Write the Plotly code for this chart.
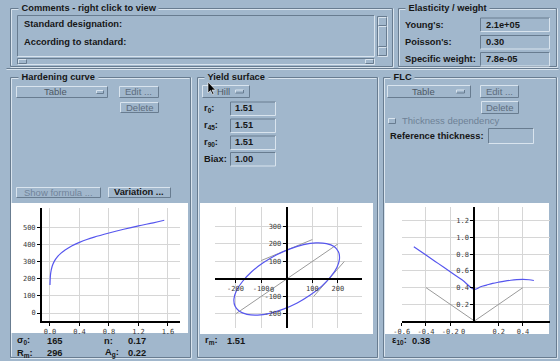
import plotly.graph_objects as go

W, H = 560, 361
BG = "#a1b7cc"
LIGHT = "#d9e4ee"
DARK = "#687c90"
BLUE = "#5656ee"
GREY = "#9a9a9a"
GRID = "#d6d6d6"
FS_B = 9.3   # bold label size
FS_R = 9.5   # regular label size

# ---------------- data ----------------
# Hardening curve (strain, stress)
hard_eps = [0.0, 0.01, 0.03, 0.06, 0.10, 0.15, 0.20, 0.30, 0.40, 0.50, 0.60, 0.80, 1.00, 1.20, 1.40, 1.55]
hard_sig = [165, 235, 275, 305, 330, 352, 368, 395, 415, 432, 446, 470, 492, 512, 530, 545]
hard_xticks = [0.0, 0.4, 0.8, 1.2, 1.6]
hard_xticktext = ["0.0", "0.4", "0.8", "1.2", "1.6"]
hard_yticks = [0, 100, 200, 300, 400, 500]

# Yield surface (sigma1, sigma2)
ys_s1 = [185, 202, 206, 196, 172, 137, 92, 41, -13, -66, -114, -155,
         -185, -202, -206, -196, -172, -137, -92, -41, 13, 66, 114, 155, 185]
ys_s2 = [185, 155, 114, 66, 13, -41, -92, -137, -172, -196, -206, -202,
         -185, -155, -114, -66, -13, 41, 92, 137, 172, 196, 206, 202, 185]
ys_diag_x = [-200, 200]
ys_diag_y = [-200, 200]
ys_tan1_x = [-100, 100]
ys_tan1_y = [105, 225]
ys_tan2_x = [105, 225]
ys_tan2_y = [-100, 100]
ys_xticks = [-200, -100, 100, 200]
ys_xticktext = ["-200", "-100", "100", "200"]
ys_yticks = [-200, -100, 100, 200, 300]
ys_yticktext = ["-200", "-100", "100", "200", "300"]

# FLC (minor strain, major strain)
flc_e2 = [-0.50, -0.40, -0.30, -0.20, -0.10, 0.00, 0.05, 0.10, 0.15, 0.20, 0.25, 0.30, 0.35, 0.40, 0.45, 0.49]
flc_e1 = [0.89, 0.79, 0.69, 0.59, 0.49, 0.38, 0.41, 0.43, 0.45, 0.465, 0.478, 0.488, 0.495, 0.498, 0.494, 0.485]
flc_ref_x = [-0.4, 0.0, 0.4]
flc_ref_y = [0.4, 0.0, 0.4]
flc_xticks = [-0.6, -0.4, -0.2, 0.2, 0.4]
flc_xticktext = ["-0.6", "-0.4", "-0.2", "0.2", "0.4"]
flc_yticks = [0.2, 0.4, 0.6, 0.8, 1.0, 1.2]
flc_yticktext = ["0.2", "0.4", "0.6", "0.8", "1.0", "1.2"]

# axis ranges
hard_xr = [-0.108, 1.763]
hard_yr = [-47, 617]
ys_xr = [-280, 294]
ys_yr = [-280, 411]
flc_xr = [-0.6, 0.623]
flc_yr = [0, 1.365]


def X(px):
    return px / W


def Y(py):
    return 1 - py / H


shapes = []
annotations = []


def rect(x0, y0, x1, y1, fill=None, line=None, lw=1):
    shapes.append(dict(type="rect", xref="paper", yref="paper",
                       x0=X(x0), x1=X(x1), y0=Y(y1), y1=Y(y0),
                       fillcolor=fill if fill else "rgba(0,0,0,0)",
                       line=dict(color=line if line else "rgba(0,0,0,0)", width=lw if line else 0),
                       layer="below"))


def seg(x0, y0, x1, y1, color, w=1):
    shapes.append(dict(type="line", xref="paper", yref="paper",
                       x0=X(x0 + 0.5), y0=Y(y0 + 0.5), x1=X(x1 + 0.5), y1=Y(y1 + 0.5),
                       line=dict(color=color, width=w), layer="below"))


def bevel(x0, y0, x1, y1, raised=True):
    tl = LIGHT if raised else DARK
    br = DARK if raised else LIGHT
    seg(x0, y0, x1, y0, tl)
    seg(x0, y0, x0, y1, tl)
    seg(x0, y1, x1, y1, br)
    seg(x1, y0, x1, y1, br)


def etched(x0, y0, x1, y1):
    seg(x0, y0, x1, y0, DARK)
    seg(x0, y0, x0, y1, DARK)
    seg(x0, y1, x1, y1, DARK)
    seg(x1, y0, x1, y1, DARK)
    seg(x0 + 1, y0 + 1, x1 - 1, y0 + 1, LIGHT)
    seg(x0 + 1, y0 + 1, x0 + 1, y1 - 1, LIGHT)
    seg(x0, y1 + 1, x1 + 1, y1 + 1, LIGHT)
    seg(x1 + 1, y0, x1 + 1, y1 + 1, LIGHT)


def txt(x, y, s, size=None, color="#161616", bold=True, anchor="left", bg=None):
    if size is None:
        size = FS_B if bold else FS_R
    annotations.append(dict(xref="paper", yref="paper", x=X(x), y=Y(y),
                            text=f"<b>{s}</b>" if bold else s, showarrow=False,
                            xanchor=anchor, yanchor="middle",
                            font=dict(family="Liberation Sans, Arial, sans-serif", size=size, color=color),
                            bgcolor=bg, borderpad=0))


# ---------------- top area ----------------
etched(10, 8, 392, 66)
txt(18, 8, " Comments - right click to view ", bg=BG)
bevel(17, 15, 374, 56, raised=False)
txt(23, 24, "Standard designation:")
txt(23, 41.5, "According to standard:")
# horizontal scrollbar
bevel(17, 58, 374, 64, raised=False)
bevel(18, 59, 26, 63)
bevel(365, 59, 373, 63)
# vertical scrollbar
bevel(377, 16, 387, 56, raised=False)
bevel(378, 17, 386, 25)
bevel(378, 47, 386, 55)
bevel(378, 26, 386, 46)

etched(398, 8, 556, 66)
txt(405, 8, " Elasticity / weight ", bg=BG)
for yy, lab, val in [(24.5, "Young's:", "2.1e+05"), (42, "Poisson's:", "0.30"), (59, "Specific weight:", "7.8e-05")]:
    txt(404, yy, lab)
    bevel(480, yy - 7, 549, yy + 6.5, raised=False)
    txt(485, yy, val)

seg(6, 68, 558, 68, DARK)
seg(6, 69, 558, 69, LIGHT)

# ---------------- lower panels ----------------
etched(10, 77, 190, 357)
txt(18, 77, " Hardening curve ", bg=BG)
etched(197, 77, 377, 357)
txt(204, 77, " Yield surface ", bg=BG)
etched(383, 77, 556, 357)
txt(390, 77, " FLC ", bg=BG)

# Hardening controls
bevel(16, 86, 107, 97)
txt(55, 91.5, "Table", color="#4e5965", bold=False, anchor="center")
bevel(96, 90, 103, 93)
bevel(119, 86, 158, 97)
txt(138.5, 91.5, "Edit ...", color="#5d6d7e", bold=False, anchor="center")
bevel(120, 102, 158, 112)
txt(139, 107, "Delete", color="#5d6d7e", bold=False, anchor="center")
bevel(16, 187, 100, 197)
txt(58, 192, "Show formula ...", color="#71849a", bold=False, anchor="center")
bevel(108, 187, 170, 197)
txt(139, 192, "Variation ...", anchor="center")

# Yield controls
bevel(202, 85, 249, 97)
txt(216, 91, "Hill", color="#4e5965", bold=False)
bevel(235, 89.5, 243, 92.5)
for yy, lab, val in [(108, "r<sub>0</sub>:", "1.51"), (125, "r<sub>45</sub>:", "1.51"),
                     (142, "r<sub>90</sub>:", "1.51"), (158.5, "Biax:", "1.00")]:
    txt(203, yy, lab)
    bevel(230, yy - 6.5, 275, yy + 7, raised=False)
    txt(234, yy, val)

# FLC controls
bevel(387, 85, 470, 97)
txt(423, 91, "Table", color="#4e5965", bold=False, anchor="center")
bevel(456, 89.5, 464, 92.5)
bevel(480, 85, 518, 97)
txt(499, 91, "Edit ...", color="#5d6d7e", bold=False, anchor="center")
bevel(481, 101, 518, 113)
txt(499.5, 107, "Delete", color="#5d6d7e", bold=False, anchor="center")
bevel(388, 118, 395, 123)
txt(401, 120.5, "Thickness dependency", color="#6e8196", bold=False)
txt(389, 135.5, "Reference thickness:")
bevel(488, 128, 533, 143, raised=False)

# chart backgrounds
rect(11, 203, 188, 333, fill="white")
rect(200, 203, 373, 334, fill="white")
rect(385, 203, 549, 334, fill="white")

# labels under charts
txt(16, 340.5, "σ<sub>0</sub>:")
txt(46, 340.5, "165")
txt(103, 340.5, "n:")
txt(127, 340.5, "0.17")
txt(16, 353, "R<sub>m</sub>:")
txt(46, 353, "296")
txt(104, 353, "A<sub>g</sub>:")
txt(127, 353, "0.22")
txt(204, 340.5, "r<sub>m</sub>:")
txt(226, 340.5, "1.51")
txt(391, 340.5, "ε<sub>10</sub>:")
txt(411, 340.5, "0.38")

# mouse cursor
cx, cy = 208, 82
pts = [(0, 0), (0, 11), (2.5, 8.5), (4.5, 12.5), (6, 12), (4, 8), (7.5, 8)]
path = "M " + " L ".join(f"{X(cx + a)},{Y(cy + b)}" for a, b in pts) + " Z"
shapes.append(dict(type="path", xref="paper", yref="paper", path=path,
                   fillcolor="black", line=dict(color="white", width=0.6), layer="above"))

# ---------------- traces ----------------
fig = go.Figure()
fig.add_trace(go.Scatter(x=hard_eps, y=hard_sig, mode="lines", line=dict(color=BLUE, width=1.2),
                         line_shape="spline", xaxis="x", yaxis="y"))

fig.add_trace(go.Scatter(x=ys_diag_x, y=ys_diag_y, mode="lines", line=dict(color=GREY, width=1), xaxis="x2", yaxis="y2"))
fig.add_trace(go.Scatter(x=ys_tan1_x, y=ys_tan1_y, mode="lines", line=dict(color=GREY, width=1), xaxis="x2", yaxis="y2"))
fig.add_trace(go.Scatter(x=ys_tan2_x, y=ys_tan2_y, mode="lines", line=dict(color=GREY, width=1), xaxis="x2", yaxis="y2"))
fig.add_trace(go.Scatter(x=ys_s1, y=ys_s2, mode="lines", line=dict(color=BLUE, width=1.2),
                         line_shape="spline", xaxis="x2", yaxis="y2"))

fig.add_trace(go.Scatter(x=flc_ref_x, y=flc_ref_y, mode="lines", line=dict(color=GREY, width=1), xaxis="x3", yaxis="y3"))
fig.add_trace(go.Scatter(x=flc_e2, y=flc_e1, mode="lines", line=dict(color=BLUE, width=1.2),
                         line_shape="spline", xaxis="x3", yaxis="y3"))

# axis arrowheads
arrow_marker = dict(color="rgba(0,0,0,0)", size=7, line=dict(color="black", width=1.3))
for xa, ya, xr, yr, x0, y0 in [("x", "y", hard_xr, hard_yr, hard_xr[0], hard_yr[0]),
                               ("x2", "y2", ys_xr, ys_yr, 0, 0),
                               ("x3", "y3", flc_xr, flc_yr, 0, 0)]:
    fig.add_trace(go.Scatter(x=[xr[1]], y=[y0], mode="markers", cliponaxis=False,
                             marker=dict(symbol="triangle-right-open", **arrow_marker), xaxis=xa, yaxis=ya))
    fig.add_trace(go.Scatter(x=[x0], y=[yr[1]], mode="markers", cliponaxis=False,
                             marker=dict(symbol="triangle-up-open", **arrow_marker), xaxis=xa, yaxis=ya))

# origin labels
tickfont = dict(family="DejaVu Sans Mono, monospace", size=7, color="#3a3a3a")
annotations.append(dict(xref="x2", yref="y2", x=0, y=0, text="0", showarrow=False, xanchor="right",
                        yanchor="top", xshift=-11, yshift=-5, font=tickfont))
annotations.append(dict(xref="x3", yref="y3", x=0, y=0, text="0", showarrow=False, xanchor="right",
                        yanchor="top", xshift=-7, yshift=-5, font=tickfont))

common = dict(showline=True, linecolor="black", linewidth=2, ticks="outside", ticklen=3,
              tickcolor="black", tickwidth=1, showgrid=True, gridcolor=GRID, gridwidth=1,
              zeroline=False, tickfont=tickfont, fixedrange=True, automargin=False)

fig.update_layout(
    width=W, height=H, margin=dict(l=0, r=0, t=0, b=0, pad=0, autoexpand=False),
    paper_bgcolor=BG, plot_bgcolor="rgba(0,0,0,0)", showlegend=False,
    shapes=shapes, annotations=annotations,
    xaxis=dict(domain=[X(42), X(180)], range=hard_xr, anchor="y",
               tickvals=hard_xticks, ticktext=hard_xticktext, **common),
    yaxis=dict(domain=[Y(321), Y(208)], range=hard_yr, anchor="x",
               tickvals=hard_yticks, **common),
    xaxis2=dict(domain=[X(215), X(362)], range=ys_xr, anchor="free", position=Y(279),
                tickvals=ys_xticks, ticktext=ys_xticktext, **common),
    yaxis2=dict(domain=[Y(328), Y(207)], range=ys_yr, anchor="free", position=X(286.7),
                tickvals=ys_yticks, ticktext=ys_yticktext, **common),
    xaxis3=dict(domain=[X(401.7), X(550)], range=flc_xr, anchor="y3",
                tickvals=flc_xticks, ticktext=flc_xticktext, **common),
    yaxis3=dict(domain=[Y(321), Y(207)], range=flc_yr, anchor="free", position=X(474.3),
                tickvals=flc_yticks, ticktext=flc_yticktext, **common),
)

fig.write_html("out.html", config={"displayModeBar": False},
               post_script="document.body.style.margin='0';document.body.style.overflow='hidden';")
